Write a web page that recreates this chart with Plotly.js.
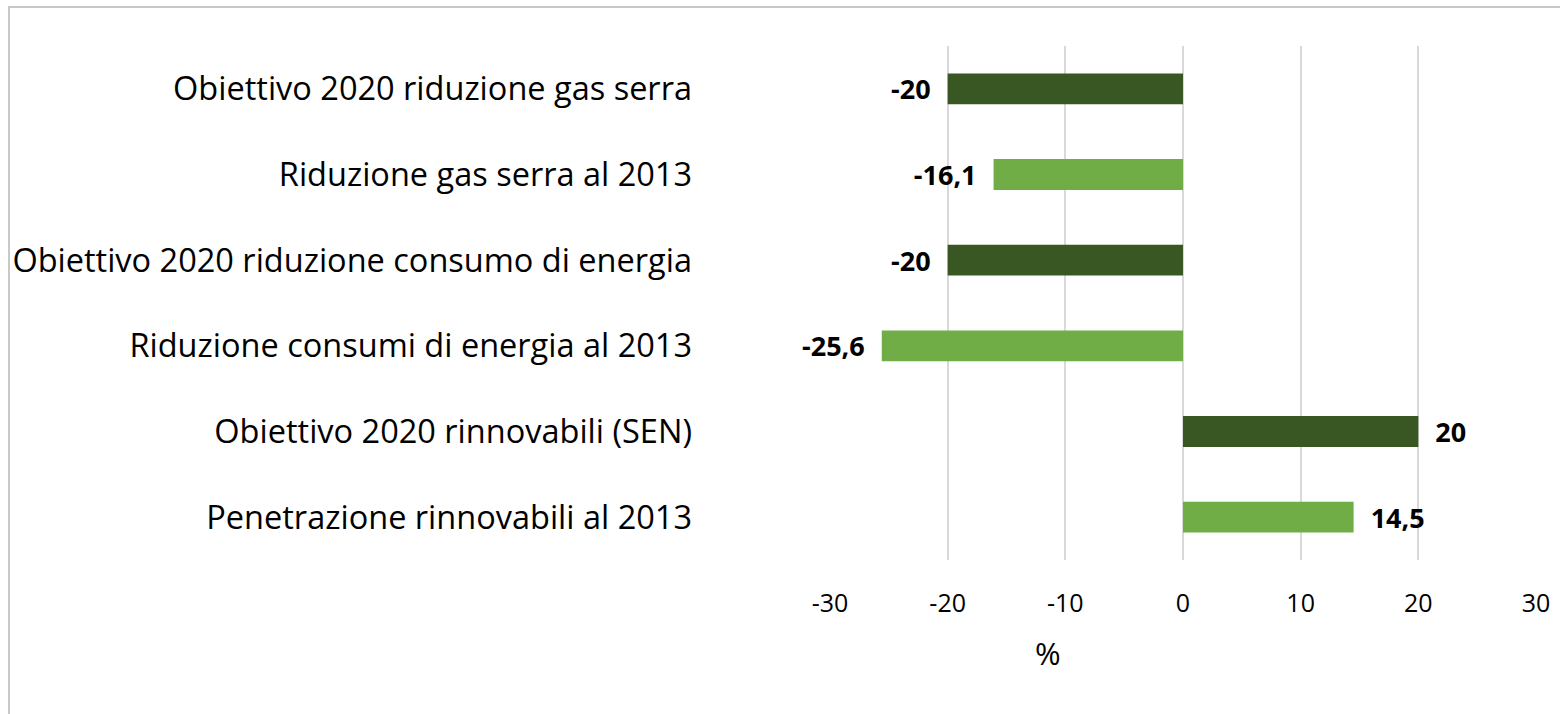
<!DOCTYPE html>
<html>
<head>
<meta charset="utf-8">
<script src="https://cdn.plot.ly/plotly-3.0.1.min.js"></script>
<style>
  html, body { margin: 0; padding: 0; background: #fff; }
  #wrap { position: relative; width: 1560px; height: 714px; overflow: hidden; }
  #frame { position: absolute; left: 8px; top: 6px; width: 1600px; height: 800px;
           border-left: 2px solid #c8c8c8; border-top: 2px solid #c8c8c8; pointer-events: none; }
  #chart { position: absolute; left: 0; top: 0; width: 1560px; height: 714px; }
</style>
</head>
<body>
<div id="wrap">
  <div id="chart"></div>
  <div id="frame"></div>
</div>
<script>
// categories, top to bottom
const categories = [
  "Obiettivo 2020 riduzione gas serra",
  "Riduzione gas serra al 2013",
  "Obiettivo 2020 riduzione consumo di energia",
  "Riduzione consumi di energia al 2013",
  "Obiettivo 2020 rinnovabili (SEN)",
  "Penetrazione rinnovabili al 2013"
];
const values = [-20, -16.1, -20, -25.6, 20, 14.5];
const barColors = ["#385723", "#70AD47", "#385723", "#70AD47", "#385723", "#70AD47"];
const xTicks = [-30, -20, -10, 0, 10, 20, 30];

// italian decimal comma, plus a little gap from the bar end
const gap = "\u00a0\u00a0";
const labels = values.map(v => {
  const s = String(v).replace(".", ",");
  return v < 0 ? s + gap : gap + s;
});

const font = "Open Sans, Liberation Sans, sans-serif";

const trace = {
  type: "bar",
  orientation: "h",
  y: categories,
  x: values,
  marker: { color: barColors },
  text: labels,
  textposition: "outside",
  constraintext: "none",
  cliponaxis: false,
  textfont: { family: font, size: 27, color: "#000", weight: "bold" },
  hoverinfo: "skip"
};

const layout = {
  width: 1560,
  height: 714,
  margin: { l: 830, r: 24, t: 46, b: 154 },
  paper_bgcolor: "#fff",
  plot_bgcolor: "#fff",
  showlegend: false,
  bargap: 0.64,
  xaxis: {
    range: [-30, 30],
    tickvals: xTicks,
    ticktext: xTicks.map(String),
    showgrid: true,
    gridcolor: "#d9d9d9",
    gridwidth: 2,
    zeroline: false,
    showline: false,
    ticks: "",
    tickfont: { family: font, size: 25, color: "#000" },
    ticklabelstandoff: 26
  },
  yaxis: {
    autorange: "reversed",
    showgrid: false,
    zeroline: false,
    showline: false,
    ticks: "",
    tickfont: { family: font, size: 32.5, color: "#000" },
    ticklabelstandoff: 137
  },
  annotations: [{
    text: "%",
    xref: "x", yref: "paper",
    x: -11.5, y: -0.18,
    xanchor: "center", yanchor: "middle",
    showarrow: false,
    font: { family: font, size: 31, color: "#000" }
  }]
};

Plotly.newPlot("chart", [trace], layout, { staticPlot: true, displayModeBar: false });
</script>
</body>
</html>
